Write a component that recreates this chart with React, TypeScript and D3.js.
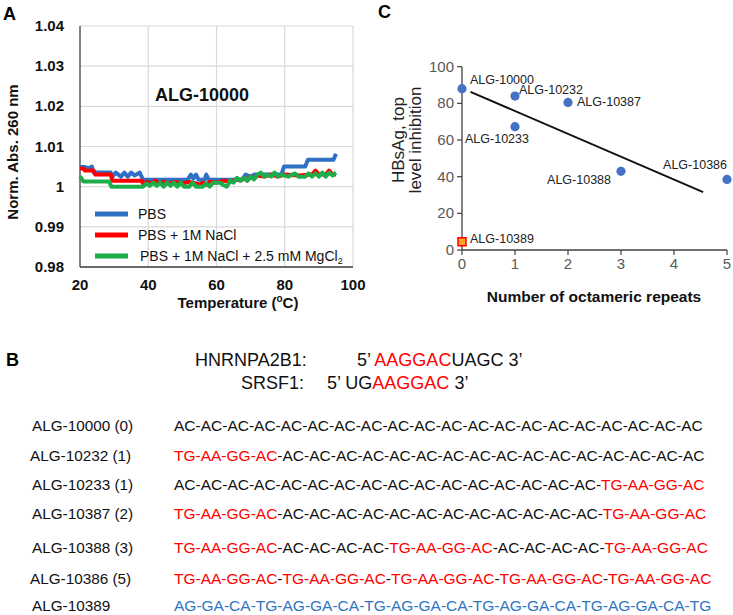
import React from "react";
import * as d3 from "d3";

// ---------- Panel A data (temperature °C, normalized absorbance) ----------
const pbsT = [20, 21.5, 22.5, 23.5, 24, 29, 29.5, 30.5, 32, 33, 34, 35, 36, 37.5, 38.5, 51.5, 52.5, 53.2, 54, 54.8, 56.5, 57, 57.8, 67.5, 68.5, 70, 71, 79, 79.8, 86, 86.8, 94.3, 95];
const pbsV = [1.0049, 1.0049, 1.0045, 1.005, 1.0035, 1.0035, 1.0025, 1.0035, 1.0025, 1.0035, 1.0025, 1.0035, 1.0028, 1.0035, 1.0017, 1.0017, 1.003, 1.002, 1.003, 1.0017, 1.0017, 1.003, 1.0017, 1.0017, 1.003, 1.0025, 1.003, 1.003, 1.005, 1.005, 1.0067, 1.0067, 1.0082];

const naclT = [20, 21, 21.5, 24, 24.5, 29, 29.5, 37, 38, 38.7, 39.5, 41, 42, 43, 44.5, 46, 48, 50, 52, 54, 55, 56, 57, 58, 60, 62, 64, 66, 67, 68, 69, 70, 71, 72, 74, 76, 78, 80, 84, 88, 89, 90, 92, 93, 94, 95];
const naclV = [1.0045, 1.0045, 1.004, 1.004, 1.003, 1.003, 1.0015, 1.0015, 1.0015, 1.0005, 1.0012, 1.0008, 1.0015, 1.0008, 1.0012, 1.0008, 1.0012, 1.0008, 1.0012, 1.0008, 1.0005, 1.001, 1.0005, 1.0012, 1.001, 1.0015, 1.0012, 1.0018, 1.0015, 1.0022, 1.0015, 1.0025, 1.002, 1.0028, 1.0025, 1.003, 1.0025, 1.003, 1.0028, 1.003, 1.004, 1.003, 1.003, 1.004, 1.003, 1.003];

const mgT = [20, 21, 28.5, 29.2, 38.5, 39.5, 40.5, 41.5, 42.5, 43.5, 44.5, 45.5, 46.5, 47.5, 48.5, 49.5, 50.5, 52, 53, 54, 56, 57, 58, 59, 61, 62, 63, 64, 65, 66, 67, 68, 69, 70, 71, 72, 73, 74, 75, 76, 77, 78, 79, 81, 83, 84, 86, 87, 88, 89, 90, 91, 92, 93, 94, 95];
const mgV = [1.0026, 1.0013, 1.0013, 1.0, 1.0, 1.0008, 1.0002, 1.001, 1.0002, 1.001, 1.0, 1.001, 1.0002, 1.001, 1.0, 1.001, 1.0, 1.0, 1.001, 1.0, 1.0, 1.0008, 1.0, 1.001, 1.001, 1.0004, 1.0, 1.0015, 1.001, 1.0022, 1.0015, 1.0022, 1.0015, 1.0025, 1.0018, 1.003, 1.0035, 1.0025, 1.003, 1.0025, 1.0035, 1.0025, 1.003, 1.0025, 1.0033, 1.0025, 1.0025, 1.0033, 1.0025, 1.0033, 1.0025, 1.0035, 1.0025, 1.0035, 1.0028, 1.0035];

const aYTicks = [0.98, 0.99, 1.0, 1.01, 1.02, 1.03, 1.04];
const aXTicks = [20, 40, 60, 80, 100];
const aSeriesNames = ["PBS", "PBS + 1M NaCl", "PBS + 1M NaCl + 2.5 mM MgCl"];
const aColors = ["#2F6FC6", "#FF0000", "#1DAE4B"];

// ---------- Panel C data ----------
const cNames = ["ALG-10000", "ALG-10232", "ALG-10387", "ALG-10233", "ALG-10388", "ALG-10386"];
const cRepeats = [0, 1, 2, 1, 3, 5];
const cInhibition = [88, 84, 80.5, 67.3, 42.9, 38.5];
const ctrlName = "ALG-10389";
const ctrlRepeats = 0;
const ctrlInhibition = 4.5;
const trendX = [0.16, 4.55];
const trendY = [86.3, 31.6];
const cXTicks = [0, 1, 2, 3, 4, 5];
const cYTicks = [0, 20, 40, 60, 80, 100];

// ---------- Panel B data ----------
const rowLabels = ["ALG-10000 (0)", "ALG-10232 (1)", "ALG-10233 (1)", "ALG-10387 (2)", "ALG-10388 (3)", "ALG-10386 (5)", "ALG-10389"];
const M = "TG-AA-GG-AC";
const ac = (n: number) => Array(n).fill("AC").join("-");
const rowSegments: [string, string][][] = [
  [[ac(20), "k"]],
  [[M, "r"], ["-" + ac(16), "k"]],
  [[ac(16) + "-", "k"], [M, "r"]],
  [[M, "r"], ["-" + ac(12) + "-", "k"], [M, "r"]],
  [[M, "r"], ["-" + ac(4) + "-", "k"], [M, "r"], ["-" + ac(4) + "-", "k"], [M, "r"]],
  [[M, "r"], ["-", "k"], [M, "r"], ["-", "k"], [M, "r"], ["-", "k"], [M, "r"], ["-", "k"], [M, "r"]],
  [["AG-GA-CA-TG-AG-GA-CA-TG-AG-GA-CA-TG-AG-GA-CA-TG-AG-GA-CA-TG", "b"]],
];

// ---------- layout ----------
const FONT = "'Liberation Sans', Arial, Helvetica, sans-serif";
const segColor: Record<string, string> = { k: "#111", r: "#FF0000", b: "#2E75C0" };
const rowY = [425, 455, 484, 513, 547, 578, 605];
const rowLabelX = [32, 30, 32, 32, 32, 30, 32];
const cLabelOffsets: [number, number, string][] = [
  [8, -9, "start"], [4, -7, "start"], [9, -1, "start"], [-50, 12, "start"], [-10, 8, "end"], [0, -15, "end"],
];

export default function App() {
  const ax = d3.scaleLinear().domain([20, 100]).range([80, 353]);
  const ay = d3.scaleLinear().domain([0.98, 1.04]).range([267, 26]);
  const line = d3.line<[number, number]>().x((d) => ax(d[0])).y((d) => ay(d[1])).curve(d3.curveLinear);
  const series: [number[], number[]][] = [[pbsT, pbsV], [naclT, naclV], [mgT, mgV]];

  const cx = d3.scaleLinear().domain([0, 5]).range([462, 727]);
  const cy = d3.scaleLinear().domain([0, 100]).range([250, 66.7]);

  return (
    <div style={{ position: "absolute", left: 0, top: 0 }}>
      <svg width={733} height={615} style={{ display: "block", background: "#fff" }} fontFamily={FONT}>
        <rect width={733} height={615} fill="#fff" />
        {/* ===== Panel A ===== */}
        <text x={3} y={20} fontSize={18} fontWeight="bold">A</text>
        {aYTicks.map((t) => (
          <line key={"gy" + t} x1={ax(20)} x2={ax(100)} y1={ay(t)} y2={ay(t)} stroke="#d9d9d9" strokeWidth={1.2} />
        ))}
        {aXTicks.slice(1).map((t) => (
          <line key={"gx" + t} x1={ax(t)} x2={ax(t)} y1={ay(0.98)} y2={ay(1.04)} stroke="#d9d9d9" strokeWidth={1.2} />
        ))}
        <line x1={ax(20)} x2={ax(20)} y1={ay(0.98)} y2={ay(1.04)} stroke="#404040" strokeWidth={1.3} />
        <line x1={ax(20)} x2={ax(100)} y1={ay(0.98)} y2={ay(0.98)} stroke="#404040" strokeWidth={1.3} />
        {aYTicks.map((t) => (
          <text key={"ty" + t} x={64} y={ay(t) + 5} fontSize={15} fontWeight="bold" textAnchor="end" fill="#111">
            {d3.format("~g")(t)}
          </text>
        ))}
        {aXTicks.map((t) => (
          <text key={"tx" + t} x={ax(t)} y={290} fontSize={15} fontWeight="bold" textAnchor="middle" fill="#111">
            {t}
          </text>
        ))}
        <text x={238} y={308} fontSize={15} fontWeight="bold" textAnchor="middle" fill="#111">
          Temperature (<tspan fontSize={10} dy={-6}>o</tspan><tspan dy={6}>C)</tspan>
        </text>
        <text transform={`translate(18,152) rotate(-90)`} fontSize={15} fontWeight="bold" textAnchor="middle" fill="#111">
          Norm. Abs. 260 nm
        </text>
        <text x={202} y={101} fontSize={18} fontWeight="bold" textAnchor="middle" fill="#111">ALG-10000</text>
        {series.map(([ts, vs], i) => (
          <path key={"s" + i} d={line(ts.map((t, j) => [t, vs[j]]) as [number, number][]) || ""} fill="none" stroke={aColors[i]} strokeWidth={4} strokeLinejoin="round" />
        ))}
        {aSeriesNames.map((n, i) => (
          <g key={"lg" + i}>
            <line x1={95} x2={128} y1={214 + i * 21} y2={214 + i * 21} stroke={aColors[i]} strokeWidth={5} />
            <text x={i === 2 ? 140 : 138} y={219 + i * 21} fontSize={14} fill="#111">
              {n}
              {i === 2 && <tspan fontSize={9} dy={3}>2</tspan>}
            </text>
          </g>
        ))}

        {/* ===== Panel C ===== */}
        <text x={378} y={18} fontSize={18} fontWeight="bold">C</text>
        <line x1={cx(0)} x2={cx(0)} y1={cy(0)} y2={cy(100)} stroke="#404040" strokeWidth={1.3} />
        <line x1={cx(0)} x2={cx(5)} y1={cy(0)} y2={cy(0)} stroke="#404040" strokeWidth={1.3} />
        {cYTicks.map((t) => (
          <g key={"cyt" + t}>
            <line x1={cx(0) - 5} x2={cx(0)} y1={cy(t)} y2={cy(t)} stroke="#404040" strokeWidth={1.2} />
            <text x={cx(0) - 8} y={cy(t) + 5} fontSize={15} textAnchor="end" fill="#595959">{t}</text>
          </g>
        ))}
        {cXTicks.map((t) => (
          <g key={"cxt" + t}>
            <line x1={cx(t)} x2={cx(t)} y1={cy(0)} y2={cy(0) + 5} stroke="#404040" strokeWidth={1.2} />
            <text x={cx(t)} y={cy(0) + 19} fontSize={15} textAnchor="middle" fill="#595959">{t}</text>
          </g>
        ))}
        <text transform={`translate(404,140) rotate(-90)`} fontSize={17} textAnchor="middle" fill="#222">HBsAg, top</text>
        <text transform={`translate(421,140) rotate(-90)`} fontSize={17} textAnchor="middle" fill="#222">level inhibition</text>
        <text x={594} y={302} fontSize={15.5} fontWeight="bold" textAnchor="middle" fill="#111">Number of octameric repeats</text>
        <line x1={cx(trendX[0])} x2={cx(trendX[1])} y1={cy(trendY[0])} y2={cy(trendY[1])} stroke="#111" strokeWidth={2} />
        {cNames.map((n, i) => (
          <g key={"cp" + i}>
            <circle cx={cx(cRepeats[i])} cy={cy(cInhibition[i])} r={4.6} fill="#4472C4" />
            <text x={cx(cRepeats[i]) + cLabelOffsets[i][0]} y={cy(cInhibition[i]) + cLabelOffsets[i][1] + 4.5} fontSize={12.5} textAnchor={cLabelOffsets[i][2]} fill="#222">
              {n}
            </text>
          </g>
        ))}
        <rect x={cx(ctrlRepeats) - 4} y={cy(ctrlInhibition) - 4} width={8} height={8} fill="#F5A623" stroke="#FF0000" strokeWidth={1.5} />
        <text x={cx(ctrlRepeats) + 8} y={cy(ctrlInhibition) + 1.5} fontSize={12.5} fill="#222">{ctrlName}</text>

        {/* ===== Panel B ===== */}
        <text x={6} y={366} fontSize={18} fontWeight="bold">B</text>
        <text x={195} y={366} fontSize={18} fill="#111">HNRNPA2B1:</text>
        <text x={357} y={366} fontSize={18} fill="#111">
          5’ <tspan fill="#FF0000">AAGGAC</tspan>UAGC 3’
        </text>
        <text x={241} y={389} fontSize={18} fill="#111">SRSF1:</text>
        <text x={327} y={389} fontSize={18} fill="#111">
          5’ UG<tspan fill="#FF0000">AAGGAC</tspan> 3’
        </text>
        {rowLabels.map((l, i) => (
          <g key={"row" + i}>
            <text x={rowLabelX[i]} y={rowY[i] + 5.5} fontSize={15.3} fill="#111">{l}</text>
            <text x={174} y={rowY[i] + 5.5} fontSize={15.5}>
              {rowSegments[i].map((s, j) => (
                <tspan key={j} fill={segColor[s[1]]}>{s[0]}</tspan>
              ))}
            </text>
          </g>
        ))}
      </svg>
    </div>
  );
}
